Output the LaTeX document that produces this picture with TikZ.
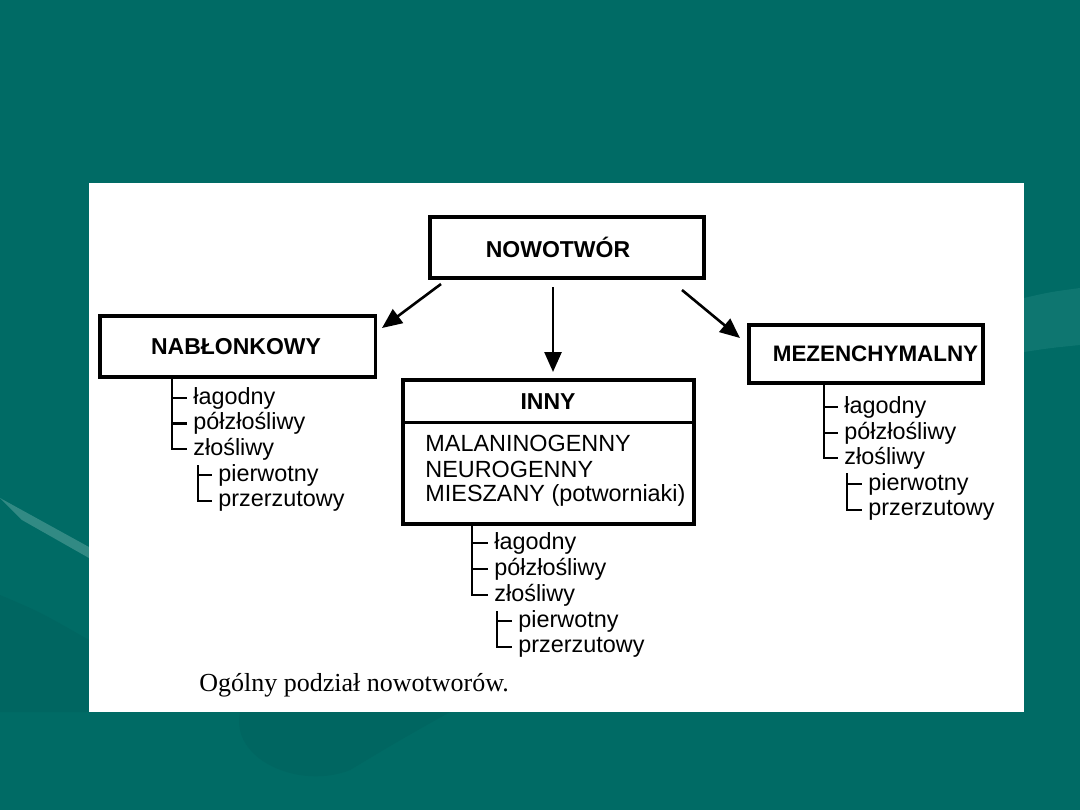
\documentclass[tikz,border=0pt]{standalone}
\usepackage{fontspec}
\setmainfont{Liberation Sans}
\newfontfamily\capfont{Liberation Serif}
\usetikzlibrary{arrows.meta}
\definecolor{bgteal}{RGB}{0,107,101}
\definecolor{swoosh}{RGB}{50,138,132}
\definecolor{swooshb}{RGB}{14,118,112}
\definecolor{swooshc}{RGB}{0,102,97}
\tikzset{
  boxline/.style={draw=black, line width=1.6pt},
  boxnode/.style={boxline, inner sep=0pt},
  boxtext/.style={inner sep=0pt, font=\bfseries\fontsize{11.5}{14}\selectfont},
  arr/.style={line width=1.3pt, -{Triangle[length=10pt,width=8.5pt]}},
  tree/.style={line width=1.2pt},
  item/.style={anchor=west, inner sep=0pt, font=\fontsize{11.7}{14}\selectfont},
  inner/.style={anchor=west, inner sep=0pt, font=\fontsize{11.7}{14}\selectfont}
}
\begin{document}
\begin{tikzpicture}[x=0.5pt,y=-0.5pt]
\useasboundingbox (0,0) rectangle (1080,810);
\fill[bgteal] (0,0) rectangle (1080,810);
% background swooshes
\fill[swooshc] (0,595) .. controls (40,612) .. (89,640) -- (89,712) -- (0,712) -- cycle;
\fill[swoosh] (0,498) -- (89,547) -- (89,558) -- (22,520) -- cycle;
\fill[swooshb] (1024,298) .. controls (1050,292) .. (1080,288) -- (1080,345) .. controls (1050,348) .. (1024,352) -- cycle;
\fill[swooshc] (240,712) .. controls (230,760) and (300,790) .. (350,770) .. controls (400,740) .. (450,712) -- cycle;
% white page
\fill[white] (89,183) rectangle (1024,712);
% boxes
\node[boxnode, minimum width=274*0.5pt, minimum height=61*0.5pt] (top) at (567,247.5) {};
\node[boxtext] (toptext) at (558,247.5) {NOWOTWÓR};
\node[boxnode, minimum width=275.5*0.5pt, minimum height=61*0.5pt] (nab) at (237.7,346.5) {};
\node[boxtext] (nabtext) at (236,346.5) {NABŁONKOWY};
\node[boxnode, minimum width=234*0.5pt, minimum height=58*0.5pt] (mez) at (866,354) {};
\node[boxtext, font=\bfseries\fontsize{11.2}{14}\selectfont] (meztext) at (875.5,354) {MEZENCHYMALNY};
\node[boxnode, minimum width=291*0.5pt, minimum height=144*0.5pt] (innybox) at (548.5,452) {};
\draw[line width=1.2pt] (innybox.west |- 0,422.5) -- (innybox.east |- 0,422.5);
\node[boxtext] (inny) at (548,402) {INNY};
\node[inner] (m1) at (425,443) {MALANINOGENNY};
\node[inner] (m2) at (425,469) {NEUROGENNY};
\node[inner] (m3) at (425,495) {MIESZANY (potworniaki)};
% arrows
\coordinate (a1s) at (441,284); \coordinate (a1e) at (382,328);
\coordinate (a2s) at (553,287); \coordinate (a2e) at (553,372);
\coordinate (a3s) at (682,290); \coordinate (a3e) at (740,338);
\draw[arr] (a1s) -- (a1e);
\draw[arr] (a2s) -- (a2e);
\draw[arr] (a3s) -- (a3e);
% left tree
\node[item] (l1) at (193,398) {łagodny};
\node[item] (l2) at (193,423.5) {półzłośliwy};
\node[item] (l3) at (193,449) {złośliwy};
\node[item] (l4) at (218,475) {pierwotny};
\node[item] (l5) at (218,501) {przerzutowy};
\draw[tree] (172,377) -- (172,449) -- ([xshift=-3pt]l3.west);
\draw[tree] (172,398) -- ([xshift=-3pt]l1.west);
\draw[tree] (172,423.5) -- ([xshift=-3pt]l2.west);
\draw[tree] (198,465) -- (198,501) -- ([xshift=-3pt]l5.west);
\draw[tree] (198,475) -- ([xshift=-3pt]l4.west);
% middle tree
\node[item] (c1) at (494,543) {łagodny};
\node[item] (c2) at (494,569) {półzłośliwy};
\node[item] (c3) at (494,595) {złośliwy};
\node[item] (c4) at (518,621) {pierwotny};
\node[item] (c5) at (518,647) {przerzutowy};
\draw[tree] (472,524) -- (472,595) -- ([xshift=-3pt]c3.west);
\draw[tree] (472,543) -- ([xshift=-3pt]c1.west);
\draw[tree] (472,569) -- ([xshift=-3pt]c2.west);
\draw[tree] (497,611) -- (497,647) -- ([xshift=-3pt]c5.west);
\draw[tree] (497,621) -- ([xshift=-3pt]c4.west);
% right tree
\node[item] (r1) at (844,407) {łagodny};
\node[item] (r2) at (844,433) {półzłośliwy};
\node[item] (r3) at (844,458) {złośliwy};
\node[item] (r4) at (868,484) {pierwotny};
\node[item] (r5) at (868,510) {przerzutowy};
\draw[tree] (824,383) -- (824,458) -- ([xshift=-3pt]r3.west);
\draw[tree] (824,407) -- ([xshift=-3pt]r1.west);
\draw[tree] (824,433) -- ([xshift=-3pt]r2.west);
\draw[tree] (847,473) -- (847,510) -- ([xshift=-3pt]r5.west);
\draw[tree] (847,484) -- ([xshift=-3pt]r4.west);
% caption
\node[anchor=west, inner sep=0pt, font=\capfont\fontsize{13}{15}\selectfont] (cap) at (199,685) {Ogólny podział nowotworów.};
\end{tikzpicture}
\end{document}
